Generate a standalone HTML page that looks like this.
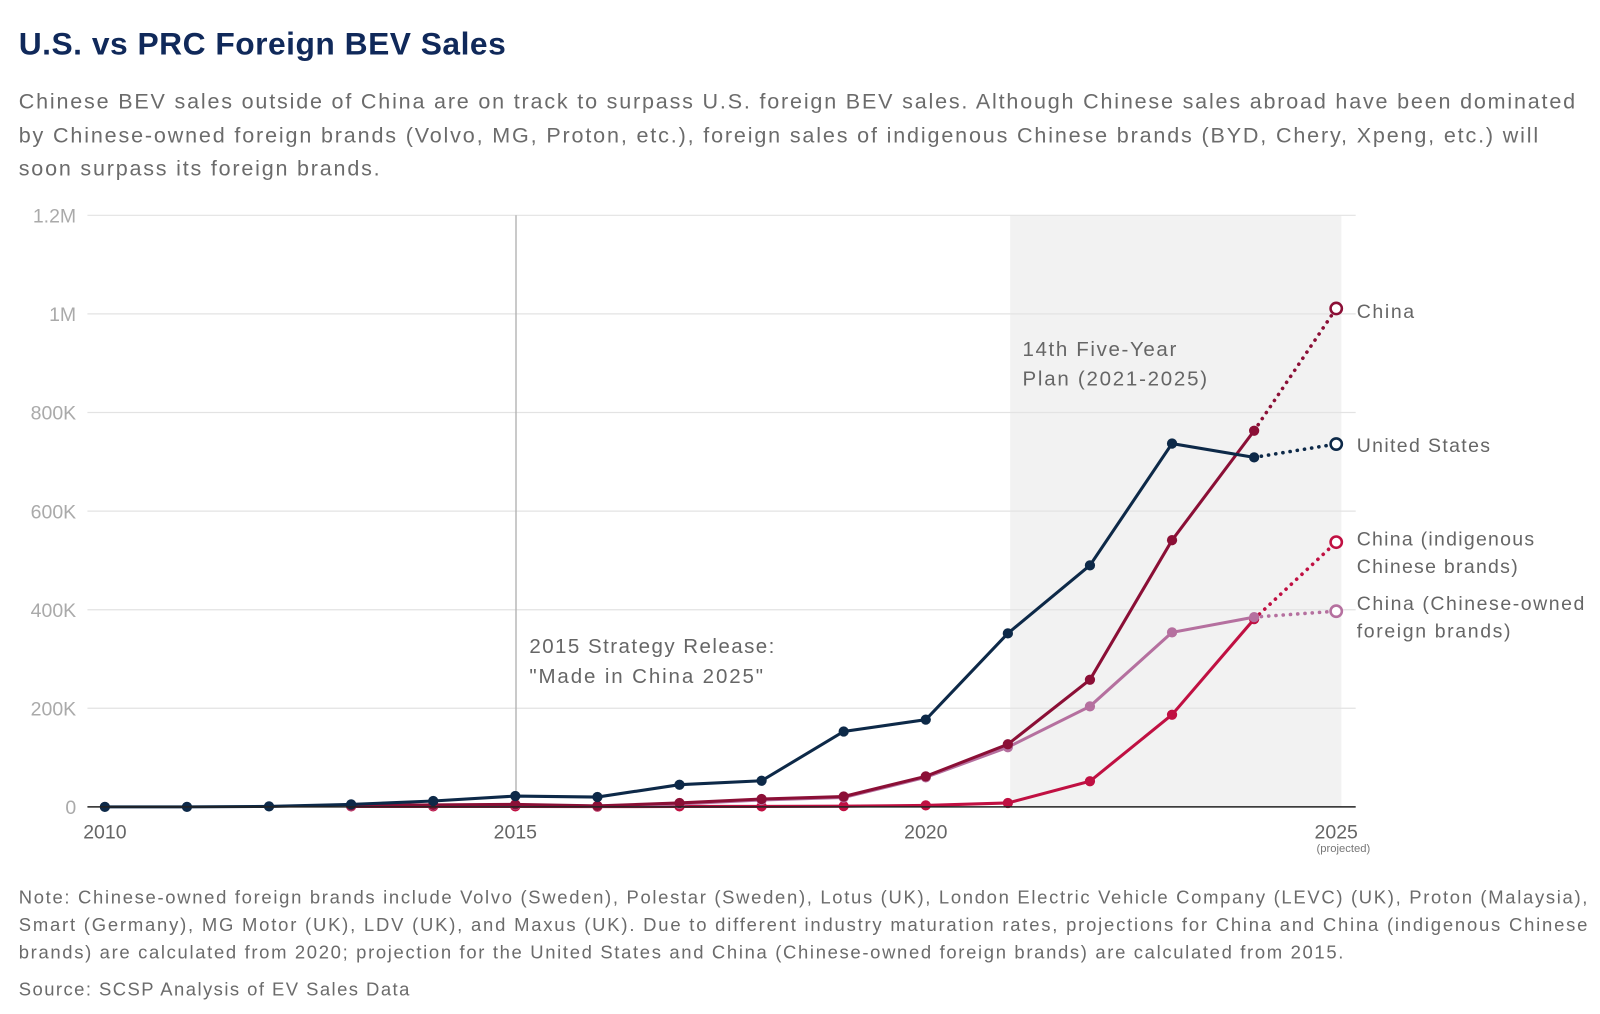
<!DOCTYPE html>
<html><head><meta charset="utf-8"><style>
html,body{margin:0;padding:0;background:#fff;width:1600px;height:1014px;overflow:hidden}
svg text{font-family:"Liberation Sans",sans-serif}
</style></head><body>
<svg width="1600" height="1014" viewBox="0 0 1560 989" xmlns="http://www.w3.org/2000/svg">
<text x="18" y="53" font-size="31" font-weight="bold" fill="#10295a" textLength="475" lengthAdjust="spacing">U.S. vs PRC Foreign BEV Sales</text>
<g font-size="21" fill="#6b6b6b">
<text x="18" y="106" textLength="1518" lengthAdjust="spacing">Chinese BEV sales outside of China are on track to surpass U.S. foreign BEV sales. Although Chinese sales abroad have been dominated</text>
<text x="18" y="139" textLength="1482" lengthAdjust="spacing">by Chinese-owned foreign brands (Volvo, MG, Proton, etc.), foreign sales of indigenous Chinese brands (BYD, Chery, Xpeng, etc.) will</text>
<text x="18" y="171" textLength="352" lengthAdjust="spacing">soon surpass its foreign brands.</text>
</g>
<rect x="985" y="210" width="323" height="577" fill="#f2f2f2"/>
<g id="grid"></g>
<line x1="503" y1="210" x2="503" y2="787" stroke="#b0b0b0" stroke-width="1.3"/>
<text x="516" y="637" font-size="20" fill="#666" textLength="239" lengthAdjust="spacing">2015 Strategy Release:</text>
<text x="516" y="666" font-size="20" fill="#666" textLength="228" lengthAdjust="spacing">"Made in China 2025"</text>
<text x="997" y="347" font-size="20" fill="#666" textLength="150" lengthAdjust="spacing">14th Five-Year</text>
<text x="997" y="376" font-size="20" fill="#666" textLength="180" lengthAdjust="spacing">Plan (2021-2025)</text>
<g id="series"></g>
<line x1="85" y1="787" x2="1322" y2="787" stroke="#222" stroke-width="1.5"/>
<g id="xt" font-size="19" fill="#666"></g>
<text x="1310" y="831" font-size="11" fill="#777" text-anchor="middle">(projected)</text>
<g font-size="19" fill="#666">
<text x="1323" y="310" textLength="56" lengthAdjust="spacing">China</text>
<text x="1323" y="441" textLength="130" lengthAdjust="spacing">United States</text>
<text x="1323" y="532" textLength="173" lengthAdjust="spacing">China (indigenous</text>
<text x="1323" y="559" textLength="157" lengthAdjust="spacing">Chinese brands)</text>
<text x="1323" y="595" textLength="222" lengthAdjust="spacing">China (Chinese-owned</text>
<text x="1323" y="622" textLength="150" lengthAdjust="spacing">foreign brands)</text>
</g>
<g font-size="18" fill="#6b6b6b">
<text x="18" y="881" textLength="1530" lengthAdjust="spacing">Note: Chinese-owned foreign brands include Volvo (Sweden), Polestar (Sweden), Lotus (UK), London Electric Vehicle Company (LEVC) (UK), Proton (Malaysia),</text>
<text x="18" y="908" textLength="1530" lengthAdjust="spacing">Smart (Germany), MG Motor (UK), LDV (UK), and Maxus (UK). Due to different industry maturation rates, projections for China and China (indigenous Chinese</text>
<text x="18" y="935" textLength="1292" lengthAdjust="spacing">brands) are calculated from 2020; projection for the United States and China (Chinese-owned foreign brands) are calculated from 2015.</text>
<text x="18" y="971" textLength="381" lengthAdjust="spacing">Source: SCSP Analysis of EV Sales Data</text>
</g>
</svg>
<script>
const years=[2010,2011,2012,2013,2014,2015,2016,2017,2018,2019,2020,2021,2022,2023,2024];
const usVals=[0,0,1000,5000,12000,22000,20000,45000,53000,153000,177000,352000,490000,737000,709000];
const chinaYears=[2013,2014,2015,2016,2017,2018,2019,2020,2021,2022,2023,2024];
const chinaVals=[3000,4000,5000,2000,8000,16000,21000,62000,127000,258000,541000,763000];
const foreignVals=[2000,3000,4000,1500,6000,14000,19000,60000,121000,204000,354000,385000];
const indigVals=[1000,1000,1000,500,1000,1000,1500,3000,8000,52000,187000,381000];
const projYear=2025;
const projVals={china:1011000,us:736000,indig:537000,foreign:397000};
const yTicks=[0,200000,400000,600000,800000,1000000,1200000];
const yTickLabels=["0","200K","400K","600K","800K","1M","1.2M"];
const xTicks=[2010,2015,2020,2025];
const NS="http://www.w3.org/2000/svg";
const X=y=>102+(y-2010)*(1303-102)/15;
const Y=v=>787-v/1200000*577;
function mk(tag,attrs,parent){const e=document.createElementNS(NS,tag);for(const k in attrs)e.setAttribute(k,attrs[k]);parent.appendChild(e);return e;}
const grid=document.getElementById('grid');
yTicks.forEach((t,i)=>{
 if(t>0){const l=mk('line',{x1:85,x2:1322,y1:Y(t),y2:Y(t),stroke:'#e3e3e3','stroke-width':1.2},grid);
 
 }
 const tx=mk('text',{x:74,y:Y(t)+7,'font-size':19,fill:'#aaa','text-anchor':'end'},grid);
 tx.textContent=yTickLabels[i];
 
 
});
const xt=document.getElementById('xt');
xTicks.forEach(t=>{const tx=mk('text',{x:X(t),y:818,'text-anchor':'middle'},xt);tx.textContent=t;
 
 });
const S=document.getElementById('series');
function series(name,ys,vals,color,proj){
 const g=mk('g',{},S);
 
 
 const pts=ys.map((y,i)=>X(y)+','+Y(vals[i])).join(' ');
 mk('polyline',{points:pts,fill:'none',stroke:color,'stroke-width':3},g);
 const ly=ys[ys.length-1],lv=vals[vals.length-1];
 mk('line',{x1:X(ly),y1:Y(lv),x2:X(projYear),y2:Y(proj),stroke:color,'stroke-width':3.5,'stroke-dasharray':'0.1 7','stroke-linecap':'round'},g);
 ys.forEach((y,i)=>{const c=mk('circle',{cx:X(y),cy:Y(vals[i]),r:5,fill:color},g);
  
  });
 const p=mk('circle',{cx:X(projYear),cy:Y(proj),r:5.5,fill:'#fff',stroke:color,'stroke-width':2.5},g);
 
 
}
series('china-indigenous',chinaYears,indigVals,'#c01042',projVals.indig);
series('china-foreign-brands',chinaYears,foreignVals,'#b5709f',projVals.foreign);
series('china',chinaYears,chinaVals,'#8b0f36',projVals.china);
series('united-states',years,usVals,'#0d2948',projVals.us);
</script>
</body></html>
